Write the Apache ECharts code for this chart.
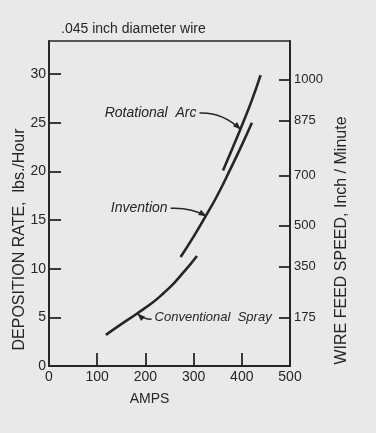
<!DOCTYPE html>
<html>
<head>
<meta charset="utf-8">
<script src="https://cdn.jsdelivr.net/npm/echarts@6/dist/echarts.min.js"></script>
<style>
  html, body { margin: 0; padding: 0; background: #e9e9e9; }
  #chart { width: 376px; height: 433px; }
</style>
</head>
<body>
<div id="chart"></div>
<script>
// deposition rate (lbs/hour) vs amps
const conventionalSpray = [
  [118, 3.2], [150, 4.3], [183, 5.4], [217, 6.6], [238, 7.5],
  [259, 8.5], [275, 9.4], [294, 10.5], [307, 11.3]
]
const invention = [
  [273, 11.2], [300, 13.3], [325, 15.4], [350, 17.6], [375, 20.1],
  [400, 22.7], [421, 25.0]
]
const rotationalArc = [
  [361, 20.1], [380, 22.3], [400, 24.7], [420, 27.2], [439, 29.9]
]

// left axis ticks
const rateLabels = [0, 5, 10, 15, 20, 25, 30]
const rateTicks = [5, 10, 15, 20, 25, 30]
// right axis: wire feed speed labels and where they sit on the rate scale
const feedLabels = ['175', '350', '500', '700', '875', '1000']
const feedAtRate = [4.96, 10.24, 14.4, 19.54, 25.19, 29.43]
const ampTicks = [100, 200, 300, 400]

// callouts: text, where the text ends, where the arrow points (data coords)
const callouts = [
  { text: 'Rotational  Arc', textEnd: [306, 26.0], tip: [398, 24.3], side: 'left', size: 14 },
  { text: 'Invention', textEnd: [246, 16.2], tip: [327, 15.4], side: 'left', size: 14 },
  { text: 'Conventional  Spray', textEnd: [219, 5.0], tip: [183, 5.4], side: 'right', size: 13 }
]

const INK = '#262626'
const FONT = '"Liberation Sans", Arial, sans-serif'

const chart = echarts.init(document.getElementById('chart'))

const lineSeries = (name, data) => ({
  name, type: 'line', data, smooth: 0.5, showSymbol: false, silent: true,
  lineStyle: { color: INK, width: 2.6 }
})

chart.setOption({
  backgroundColor: '#e9e9e9',
  animation: false,
  textStyle: { fontFamily: FONT, color: INK },
  title: {
    text: '.045 inch diameter wire', left: 56, top: 17,
    textStyle: { fontFamily: FONT, fontSize: 14, fontWeight: 'normal', color: INK }
  },
  grid: {
    left: 49, right: 86, top: 41, bottom: 67, outerBoundsMode: 'none',
    show: true, borderColor: INK, borderWidth: 1.6, backgroundColor: 'transparent'
  },
  xAxis: {
    type: 'value', min: 0, max: 500, interval: 100,
    name: 'AMPS', nameLocation: 'middle', nameGap: 26,
    nameTextStyle: { fontFamily: FONT, fontSize: 14, color: INK, padding: [0, 40, 0, 0] },
    axisLine: { show: true, lineStyle: { color: INK, width: 2 } },
    axisTick: { show: true, inside: true, length: 13, customValues: ampTicks, lineStyle: { color: INK, width: 1.8 } },
    axisLabel: { color: INK, fontSize: 14, margin: 4, fontFamily: FONT },
    splitLine: { show: false }
  },
  yAxis: [
    {
      type: 'value', min: 0, max: 33.4, position: 'left',
      name: 'DEPOSITION RATE,  lbs./Hour', nameLocation: 'middle', nameGap: 21, nameRotate: 90,
      nameMoveOverlap: false,
      nameTextStyle: { fontFamily: FONT, fontSize: 16, color: INK, padding: [0, 72, 0, 0] },
      axisLine: { show: true, lineStyle: { color: INK, width: 2 } },
      axisTick: { show: true, inside: true, length: 12, customValues: rateTicks, lineStyle: { color: INK, width: 1.8 } },
      axisLabel: { customValues: rateLabels, color: INK, fontSize: 14, margin: 3, fontFamily: FONT },
      splitLine: { show: false }
    },
    {
      type: 'value', min: 0, max: 33.4, position: 'right',
      name: 'WIRE FEED SPEED, Inch / Minute', nameLocation: 'middle', nameGap: 42, nameRotate: 90,
      nameTextStyle: { fontFamily: FONT, fontSize: 16, color: INK, padding: [0, 74, 0, 0] },
      axisLine: { show: true, lineStyle: { color: INK, width: 2 } },
      axisTick: { show: true, inside: true, length: 11, customValues: feedAtRate, lineStyle: { color: INK, width: 1.8 } },
      axisLabel: {
        customValues: feedAtRate, color: INK, fontSize: 13, margin: 4, fontFamily: FONT,
        formatter: (v) => {
          const i = feedAtRate.findIndex((r) => Math.abs(r - v) < 0.01)
          return i >= 0 ? feedLabels[i] : ''
        }
      },
      splitLine: { show: false }
    }
  ],
  series: [
    lineSeries('Conventional Spray', conventionalSpray),
    lineSeries('Invention', invention),
    lineSeries('Rotational Arc', rotationalArc)
  ]
})

// callout text + curved arrows, placed from data coords
function drawCallouts() {
  const els = []
  callouts.forEach((c) => {
    const [tx, ty] = chart.convertToPixel({ gridIndex: 0 }, c.textEnd)
    const [px, py] = chart.convertToPixel({ gridIndex: 0 }, c.tip)
    const left = c.side === 'left'
    els.push({
      type: 'text', silent: true,
      style: {
        text: c.text, x: tx, y: ty,
        align: left ? 'right' : 'left', verticalAlign: 'middle',
        font: 'italic ' + c.size + 'px ' + FONT, fill: INK
      }
    })
    // arrow line
    const sx = left ? tx + 3 : tx - 3
    const sy = ty + (left ? 0 : 2)
    const dx = px - sx
    const cx = sx + dx * 0.55
    const cy = sy - (left ? 1 : 0)
    els.push({
      type: 'bezierCurve', silent: true,
      shape: { x1: sx, y1: sy, x2: px, y2: py, cpx1: cx, cpy1: cy },
      style: { stroke: INK, lineWidth: 1.5, fill: null }
    })
    // arrowhead pointing along the last leg
    const ang = Math.atan2(py - cy, px - cx)
    const L = 8, W = 3
    const bx = px - L * Math.cos(ang), by = py - L * Math.sin(ang)
    els.push({
      type: 'polygon', silent: true,
      shape: {
        points: [
          [px, py],
          [bx + W * Math.sin(ang), by - W * Math.cos(ang)],
          [bx - W * Math.sin(ang), by + W * Math.cos(ang)]
        ]
      },
      style: { fill: INK }
    })
  })
  chart.setOption({ graphic: els })
}
drawCallouts()
</script>
</body>
</html>
